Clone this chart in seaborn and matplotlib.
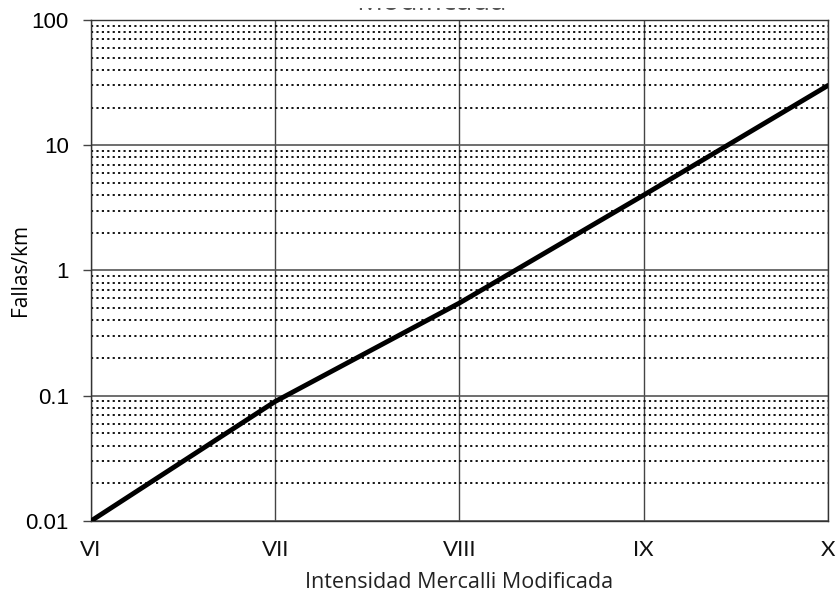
import matplotlib
matplotlib.use("Agg")
import matplotlib.pyplot as plt
import seaborn as sns
import pandas as pd
import numpy as np
from matplotlib.ticker import LogLocator, FixedLocator, NullFormatter
from matplotlib.transforms import Bbox, TransformedBbox

# Intensity (Modified Mercalli) vs. failures per km
intensidad = [6, 7, 8, 9, 10]
etiquetas = ["VI", "VII", "VIII", "IX", "X"]
fallas_km = [0.01, 0.09, 0.55, 4.0, 30.0]
decadas = [0.01, 0.1, 1, 10, 100]
etiquetas_y = ["0.01", "0.1", "1", "10", "100"]

sns.set_theme(style="white")
plt.rcParams["font.family"] = ["Liberation Sans", "DejaVu Sans"]

df = pd.DataFrame({"intensidad": intensidad, "fallas": fallas_km})

fig = plt.figure(figsize=(8.4, 6.0), dpi=100)
ax = fig.add_axes([0.1083, 0.1317, 0.8774, 0.835])

ax.set_yscale("log")
ax.set_ylim(0.01, 100)
ax.set_xlim(6, 10)

# Grid: solid at decades and intensities, dotted at intermediate values
ax.yaxis.set_major_locator(FixedLocator(decadas))
ax.yaxis.set_minor_locator(LogLocator(base=10, subs=np.arange(2, 10)))
ax.yaxis.set_minor_formatter(NullFormatter())
ax.set_yticklabels(etiquetas_y)
ax.grid(which="major", axis="y", color="#555555", linewidth=1.2, linestyle="-")
ax.grid(which="minor", axis="y", color="black", linewidth=1.3, linestyle=(0, (1.2, 1.8)))
ax.set_xticks(intensidad)
ax.set_xticklabels(etiquetas, fontfamily=["Lato", "DejaVu Sans"])
ax.grid(which="major", axis="x", color="#444444", linewidth=1.0, linestyle="-")
ax.set_axisbelow(True)

sns.lineplot(data=df, x="intensidad", y="fallas", ax=ax, color="black",
             linewidth=3.5, zorder=5)

for s in ax.spines.values():
    s.set_color("#333333")
    s.set_linewidth(1.0)

ax.tick_params(axis="y", which="major", length=6, width=1.0, color="#444444",
               labelsize=16, pad=10, left=True)
ax.tick_params(axis="y", which="minor", length=0)
ax.tick_params(axis="x", which="major", length=0, labelsize=16, pad=14)
for lbl in ax.get_yticklabels():
    lbl.set_color("black")
for lbl in ax.get_xticklabels():
    lbl.set_color("#111111")

ax.set_xlabel("Intensidad Mercalli Modificada", fontsize=15.5,
              fontfamily=["Open Sans", "DejaVu Sans"], color="#222222", labelpad=8)
ax.set_ylabel("Fallas/km", fontsize=15,
              fontfamily=["Open Sans", "DejaVu Sans"], color="black")
ax.yaxis.set_label_coords(-0.082, 0.5)

# Title runs past the top edge: only a thin strip of its lower part is kept
titulo = fig.text(0.513, 0.984, "Modificada", fontsize=21,
                  fontfamily=["Open Sans", "DejaVu Sans"], color="#555555",
                  ha="center", va="baseline")
titulo.set_clip_box(TransformedBbox(Bbox([[0.0, 0.0], [1.0, 0.9875]]),
                                    fig.transFigure))
titulo.set_clip_on(True)

fig.savefig("out.png", dpi=100)
